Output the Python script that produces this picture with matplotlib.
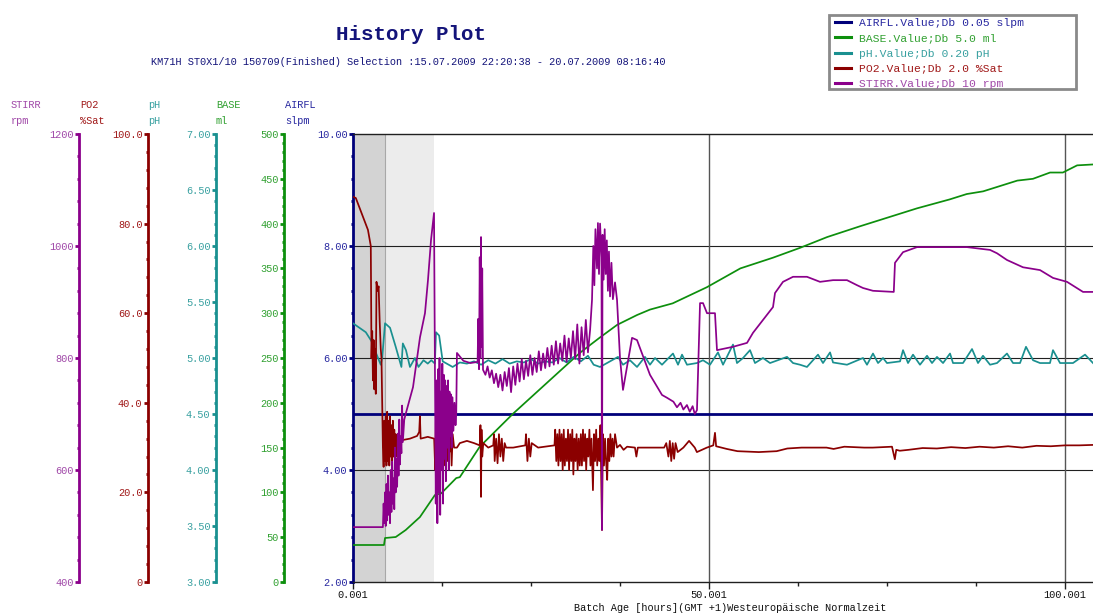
import matplotlib
matplotlib.use("Agg")
import matplotlib.pyplot as plt
from matplotlib.ticker import AutoMinorLocator, FixedLocator, FuncFormatter
from matplotlib.lines import Line2D
from matplotlib.patches import Rectangle

plt.rcParams['font.family'] = ['Liberation Mono', 'DejaVu Sans Mono']

# ---------------- data (hours, values in each series' own units) ----------------
airfl_h = [0.0, 103.93]
airfl_v = [5.0, 5.0]

base_h = [0.0, 4.35, 4.5, 6.0, 7.4, 9.4, 11.5, 12.4, 14.5, 15.0, 17.8, 22.5, 27.2, 31.9,
          34.7, 37.1, 39.9, 41.7, 44.9, 49.7, 54.4, 59.0, 62.8, 66.6, 71.2, 74.4, 79.2,
          83.8, 86.2, 88.5, 90.9, 93.3, 95.5, 97.9, 99.7, 101.7, 103.93]
base_v = [41.3, 41.3, 49.1, 50.2, 58, 72.5, 97, 99, 116, 117, 151, 188, 222, 256,
          273, 287, 298, 304, 311, 329, 350, 362, 373, 385, 397, 405, 417,
          427, 433, 436, 442, 448, 450, 457, 457, 465, 466]

ph_h = [0.0, 1.8, 2.8, 3.2, 3.9, 4.1, 4.5, 5.2, 6.0, 6.8, 7.0, 7.44, 8.0, 8.7, 9.2, 9.9,
        10.5, 11.0, 11.5, 11.66, 12.1, 12.6, 14.0, 15.0, 16.0, 17.0, 18.0, 19.0, 20.0,
        21.0, 22.0, 23.0, 24.0, 25.0, 26.0, 27.0, 28.0, 29.0, 30.0, 31.0, 32.0, 33.0,
        33.8, 34.69, 37.22, 37.92, 38.9, 39.89, 41.01, 41.71, 42.42, 43.4, 44.94, 45.65,
        46.21, 46.91, 48.31, 49.16, 50.14, 51.26, 51.97, 52.67, 53.37, 53.93, 54.78,
        55.76, 56.46, 57.58, 58.57, 60.96, 61.8, 62.78, 63.76, 65.31, 66.01, 67.0, 67.42,
        69.38, 71.63, 72.19, 73.03, 73.74, 74.44, 75.0, 76.83, 77.25, 77.95, 78.65, 79.63,
        80.62, 81.32, 82.02, 82.87, 83.85, 84.27, 85.67, 86.94, 87.78, 88.48, 89.47,
        90.45, 91.85, 92.7, 93.68, 94.52, 95.51, 96.49, 97.89, 98.31, 99.3, 101.12,
        102.81, 103.93]
ph_v = [5.31, 5.23, 5.13, 5.05, 4.94, 5.0, 5.31, 5.27, 5.1, 4.92, 5.13, 5.07, 4.92, 5.0,
        4.92, 4.98, 4.95, 4.98, 4.95, 5.23, 5.2, 4.97, 4.92, 4.96, 4.95, 4.97, 4.94, 4.98,
        4.95, 4.99, 4.95, 4.97, 4.96, 4.99, 4.95, 4.97, 4.96, 5.0, 4.96, 5.01, 4.97, 5.02,
        4.94, 4.92, 5.01, 4.94, 4.98, 4.92, 5.01, 4.94, 5.0, 4.94, 5.04, 4.94, 5.03, 4.94,
        4.955, 4.98, 4.94, 5.05, 4.94, 5.03, 5.12, 4.955, 5.0, 5.07, 4.955, 5.0, 4.955,
        5.01, 4.955, 4.94, 4.92, 5.03, 4.955, 5.05, 4.96, 4.94, 5.0, 4.94, 5.04, 4.955,
        5.0, 4.955, 4.97, 5.07, 4.955, 5.03, 4.94, 5.02, 4.955, 5.01, 4.955, 5.04, 4.955,
        4.955, 5.08, 4.955, 5.02, 4.94, 4.955, 5.04, 4.955, 4.955, 5.10, 4.98, 4.955,
        4.955, 5.07, 4.955, 4.955, 5.03, 4.955]

po2_h = [0.0, 0.4, 1.4, 2.1, 2.5, 2.6, 2.7, 2.8, 2.9, 3.0, 3.1, 3.2, 3.3, 3.45, 3.6, 3.75,
         3.9, 4.0, 4.1, 4.2, 4.3, 4.4, 4.5, 4.6, 4.7, 4.8, 4.9, 5.0, 5.1, 5.2, 5.3, 5.4,
         5.5, 5.6, 5.7, 5.8, 5.9, 6.0, 6.1, 6.3, 7.0, 8.0, 9.0, 9.3, 9.4, 9.5, 10.5, 11.4,
         11.55, 11.65, 11.75, 11.85, 11.95, 12.05, 12.15, 12.25, 12.35, 12.45, 12.55,
         12.65, 12.75, 12.85, 12.95, 13.1, 13.25, 13.4, 13.55, 13.7, 13.85, 14.0, 14.2,
         14.6, 15.0, 16.0, 17.0, 17.8, 17.9, 17.98, 18.05, 18.15, 18.3, 19.0, 19.7, 19.8,
         19.9, 20.1, 20.3, 20.5, 20.7, 20.9, 21.1, 21.3, 21.5, 22.5, 24.2, 24.3, 24.5,
         24.7, 24.9, 25.1, 26.0, 28.3, 28.4, 28.55, 28.7, 28.85, 29.0, 29.15, 29.3, 29.45,
         29.6, 29.75, 29.9, 30.05, 30.2, 30.35, 30.5, 30.65, 30.8, 30.95, 31.1, 31.25,
         31.4, 31.55, 31.7, 31.85, 32.0, 32.15, 32.3, 32.45, 32.6, 32.75, 32.9, 33.05,
         33.2, 33.35, 33.5, 33.7, 33.85, 34.0, 34.15, 34.3, 34.45, 34.6, 34.75, 34.97,
         35.1, 35.25, 35.4, 35.55, 35.7, 35.85, 36.0, 36.15, 36.3, 36.45, 36.6, 36.8,
         37.08, 37.5, 38.0, 38.5, 39.6, 39.8, 40.0, 43.7, 44.0, 44.3, 44.5, 44.7, 44.9,
         45.1, 45.3, 45.6, 46.4, 47.2, 48.0, 48.3, 49.7, 50.6, 50.84, 51.0, 52.5, 54.0,
         57.0, 59.5, 61.0, 63.0, 66.5, 67.5, 69.0, 71.8, 73.0, 75.7, 76.1, 76.3, 76.8,
         78.0, 80.0, 82.0, 84.0, 86.0, 88.0, 90.0, 92.0, 94.0, 96.0, 98.0, 100.0, 102.0,
         103.93]
po2_v = [86, 85.7, 81.5, 78.6, 75, 50, 56, 45, 54, 43, 52, 42, 67, 65, 66, 58,
         52, 50, 40, 30, 25.7, 36, 27, 37, 26, 38, 27, 36, 26, 37, 28, 35,
         27, 36, 28, 34, 27, 33, 28, 30, 31.7, 32, 32.6, 33.5, 37, 32, 32.4, 32,
         25, 38, 22, 36, 24, 34, 22, 38, 27, 35, 25,
         37, 26, 33, 28, 34, 27, 33, 29, 35, 26, 33, 30,
         30, 31, 31.5, 31, 30.5, 35, 19, 34, 28, 31, 30, 30.5, 33,
         27, 32, 26.5, 33, 28, 32, 27, 31, 30, 30, 30.5, 33, 27,
         32, 28, 31, 30, 30.5, 34, 27, 33, 26, 34, 27, 33, 25,
         34, 26, 32, 27, 34, 25, 33, 27, 34, 24, 32, 27,
         33, 25, 32, 26, 33, 26, 34, 27, 33, 25, 32, 28,
         34, 26, 32, 20.5, 33, 27, 34, 26, 32, 27, 35, 11.6,
         33, 26, 32, 27, 22.8, 32, 27, 33, 28, 32, 28, 33,
         30, 30.6, 29.5, 30.2, 30, 28, 30, 30, 31, 28, 31.5, 27, 31,
         27.5, 31, 29, 30, 31.5, 30, 29, 30, 30.5, 33.3, 30.3, 29.7, 29.2,
         29, 29.2, 29.8, 30, 30, 29.7, 30.2, 30, 30, 30.2, 27.4, 29.5, 29.3,
         29.5, 29.9, 29.8, 30.1, 29.9, 30.2, 30.0, 30.3, 30.0, 30.4, 30.3, 30.5, 30.5,
         30.6]

stirr_h = [0.0, 4.2, 4.3, 4.4, 4.5, 4.6, 4.7, 4.8, 4.9, 5.0, 5.1, 5.2, 5.3, 5.4, 5.5, 5.6,
           5.7, 5.8, 5.9, 6.0, 6.1, 6.2, 6.3, 6.4, 6.5, 6.6, 6.7, 6.8, 6.9, 7.0, 7.2, 7.44,
           8.43, 9.41, 10.11, 10.53, 10.96, 11.38, 11.55, 11.62, 11.75, 11.85, 11.95, 12.05,
           12.15, 12.25, 12.35, 12.45, 12.55, 12.65, 12.75, 12.85, 12.95, 13.05, 13.15,
           13.25, 13.35, 13.45, 13.55, 13.65, 13.75, 13.85, 13.95, 14.1, 14.25, 14.4, 14.5,
           14.6, 15.5, 16.5, 17.5, 17.6, 17.7, 17.8, 17.9, 17.98, 18.05, 18.15, 18.26,
           18.6, 18.9, 19.2, 19.5, 19.8, 20.1, 20.4, 20.7, 21.0, 21.3, 21.6, 21.9, 22.2,
           22.5, 22.8, 23.1, 23.4, 23.7, 24.0, 24.3, 24.6, 24.9, 25.2, 25.5, 25.8, 26.1,
           26.4, 26.7, 27.0, 27.3, 27.6, 27.9, 28.2, 28.5, 28.8, 29.1, 29.4, 29.7, 30.0,
           30.3, 30.6, 30.9, 31.2, 31.5, 31.8, 32.1, 32.4, 32.7, 33.0, 33.3, 33.57, 33.75,
           33.9, 34.05, 34.27, 34.4, 34.55, 34.7, 34.9, 34.97, 35.05, 35.2, 35.35, 35.5,
           35.65, 35.8, 35.95, 36.1, 36.3, 36.5, 36.8, 37.08, 37.5, 37.92, 39.19, 39.89,
           41.71, 43.4, 44.1, 45.0, 45.5, 46.0, 46.4, 46.9, 47.3, 47.7, 48.0, 48.31, 48.74,
           49.16, 49.72, 50.84, 51.12, 53.37, 55.34, 56.18, 57.58, 58.99, 59.27, 60.39,
           61.8, 63.76, 65.59, 67.42, 69.38, 70.79, 71.63, 73.03, 75.84, 75.95, 76.12,
           77.25, 79.21, 86.24, 89.47, 90.45, 91.85, 94.1, 96.49, 98.31, 100.28, 102.53,
           103.93]
stirr_v = [498, 498, 540, 505, 560, 500, 575, 510, 590, 520, 560, 505, 600, 525, 615, 540,
           585, 530, 640, 560, 620, 570, 665, 590, 690, 610, 660, 630, 715, 650, 690, 702,
           748, 837, 880, 939, 1011, 1059, 700, 540, 760, 505, 780, 560,
           800, 520, 740, 600, 790, 540, 770, 620, 760, 580, 750,
           640, 760, 600, 740, 660, 735, 640, 730, 670, 720, 680, 700,
           809, 795, 791, 793, 870, 780, 980, 800, 1016, 820, 960, 779,
           770, 785, 765, 778, 755, 772, 748, 770, 742, 775, 750, 782, 739,
           785, 752, 790, 758, 798, 762, 795, 768, 805, 770, 800, 775, 812,
           778, 808, 782, 818, 785, 822, 788, 830, 790, 826, 795, 840, 793,
           835, 800, 848, 798, 860, 790, 855, 805, 868, 810, 850, 904, 1000,
           930, 1030, 960, 1041, 950, 1040, 980, 493, 1020, 940, 1030, 950,
           1010, 920, 990, 910, 970, 905, 935, 904, 800, 743, 836, 832,
           770, 734, 729, 722, 712, 720, 708, 716, 704, 714, 700, 707, 898,
           898, 880, 880, 814, 820, 827, 845, 868, 891, 916, 936,
           945, 945, 936, 939, 939, 930, 925, 920, 918, 918, 970,
           989, 998, 998, 993, 987, 975, 962, 957, 943, 936, 918,
           918]

xtick_vals = [0.001, 50.001, 100.001]
xtick_labels = ["0.001", "50.001", "100.001"]

# ---------------- styling ----------------
W, H = 1093, 615
DPI = 100
PX2PT = 72.0 / DPI
fig = plt.figure(figsize=(W / DPI, H / DPI), dpi=DPI)
L, R, T, B = 353, 1093, 134, 582
host = fig.add_axes([L / W, 1 - B / H, (R - L) / W, (B - T) / H])

C_AIR, C_BASE, C_PH, C_PO2, C_STIRR = '#00007a', '#0d8f0d', '#1a9090', '#8b0000', '#8b008b'
T_AIR, T_BASE, T_PH, T_PO2, T_STIRR = '#2828a0', '#30a030', '#38a0a0', '#a01818', '#a048a8'

FS = 7.4

host.set_xlim(0.001, 103.93)
host.set_ylim(2, 10)
host.axvspan(0.001, 4.5, color='#d3d3d3', zorder=0, lw=0)
host.axvspan(4.5, 11.4, color='#ececec', zorder=0, lw=0)
host.axvline(4.5, color='#a8a8a8', lw=0.8, zorder=0.5)
for yv in (4, 6, 8):
    host.axhline(yv, color='#202020', lw=0.8, zorder=1)
for xv in (50.001, 100.001):
    host.axvline(xv, color='#555555', lw=1.0, zorder=1)

host.spines['right'].set_visible(False)
host.spines['top'].set_color('#202020')
host.spines['top'].set_linewidth(1.0)
host.spines['bottom'].set_color('#202020')
host.spines['bottom'].set_linewidth(1.0)
host.spines['left'].set_color(C_AIR)
host.spines['left'].set_linewidth(2.0)

host.set_xticks(xtick_vals)
host.set_xticklabels(xtick_labels)
host.xaxis.set_minor_locator(FixedLocator([12.501, 25.001, 37.501, 62.501, 75.001, 87.501]))
host.tick_params(axis='x', which='major', direction='out', length=5, width=1, color='#202020',
                 labelsize=FS, pad=1, labelcolor='#101010')
host.tick_params(axis='x', which='minor', direction='out', length=3, width=1, color='#202020')

# series: (name, unit, hours, values, ylim, step, fmt, spine offset px, header x px, colors, lw)
series = [
    ('AIRFL', 'slpm', airfl_h, airfl_v, (2, 10), 2, lambda v: f"{v:.2f}", 0, 285, C_AIR, T_AIR, 2.0),
    ('BASE', 'ml', base_h, base_v, (0, 500), 50, lambda v: f"{v:.0f}", 69, 216, C_BASE, T_BASE, 1.25),
    ('pH', 'pH', ph_h, ph_v, (3, 7), 0.5, lambda v: f"{v:.2f}", 137, 148, C_PH, T_PH, 1.25),
    ('PO2', '%Sat', po2_h, po2_v, (0, 100), 20, lambda v: "0" if v == 0 else f"{v:.1f}", 205, 80, C_PO2, T_PO2, 1.25),
    ('STIRR', 'rpm', stirr_h, stirr_v, (400, 1200), 200, lambda v: f"{v:.0f}", 274, 11, C_STIRR, T_STIRR, 1.25),
]
legend_labels = ['AIRFL.Value;Db 0.05 slpm', 'BASE.Value;Db 5.0 ml', 'pH.Value;Db 0.20 pH',
                 'PO2.Value;Db 2.0 %Sat', 'STIRR.Value;Db 10 rpm']

handles = []
for i, (name, unit, hh, vv, lim, step, fmt, off, hxp, col, tcol, lw) in enumerate(series):
    if i == 0:
        ax = host
    else:
        ax = host.twinx()
        ax.patch.set_visible(False)
        for s in ('right', 'top', 'bottom'):
            ax.spines[s].set_visible(False)
        ax.spines['left'].set_visible(True)
        ax.spines['left'].set_position(('outward', off * PX2PT))
        ax.spines['left'].set_color(col)
        ax.spines['left'].set_linewidth(2.0)
        ax.yaxis.set_ticks_position('left')
    ax.set_ylim(*lim)
    n = int(round((lim[1] - lim[0]) / step))
    ax.set_yticks([lim[0] + k * step for k in range(n + 1)])
    ax.yaxis.set_major_formatter(FuncFormatter(lambda v, p, f=fmt: f(v)))
    ax.yaxis.set_minor_locator(AutoMinorLocator(5))
    ax.tick_params(axis='y', which='major', direction='out', length=3, width=2, color=col,
                   labelsize=FS, labelcolor=tcol, pad=1)
    ax.tick_params(axis='y', which='minor', direction='out', length=1.5, width=2, color=col)
    ax.plot(hh, vv, color=col, lw=lw, zorder=3)
    handles.append(Line2D([], [], color=col, lw=2.2))
    fig.text(hxp / W, 1 - 105 / H, name, color=tcol, fontsize=FS, ha='left', va='center')
    fig.text(hxp / W, 1 - 121 / H, unit, color=tcol, fontsize=FS, ha='left', va='center')

# title & subtitle
fig.text(411 / W, 1 - 34 / H, 'History Plot', color='#14147a', fontsize=15, fontweight='bold',
         ha='center', va='center')
fig.text(408 / W, 1 - 62 / H,
         'KM71H ST0X1/10 150709(Finished) Selection :15.07.2009 22:20:38 - 20.07.2009 08:16:40',
         color='#14147a', fontsize=FS, ha='center', va='center')
fig.text(730 / W, 1 - 608 / H, 'Batch Age [hours](GMT +1)Westeuropäische Normalzeit',
         color='#101010', fontsize=FS, ha='center', va='center')

# legend box (drawn as figure rectangle) + frameless legend inside
fig.patches.append(Rectangle((829 / W, 1 - 89 / H), (1076 - 829) / W, (89 - 15) / H,
                             transform=fig.transFigure, facecolor='white',
                             edgecolor='#8a8a8a', linewidth=2, zorder=5))
leg = fig.legend(handles, legend_labels, loc='upper left',
                 bbox_to_anchor=(833 / W, 1 - 16 / H), frameon=False,
                 prop={'family': 'Liberation Mono', 'size': 8.2}, handlelength=1.35,
                 handletextpad=0.75, labelspacing=0.45, borderpad=0.2, borderaxespad=0)
leg.set_zorder(6)
for txt, c in zip(leg.get_texts(), [T_AIR, T_BASE, T_PH, T_PO2, T_STIRR]):
    txt.set_color(c)

fig.savefig('out.png', dpi=DPI)
